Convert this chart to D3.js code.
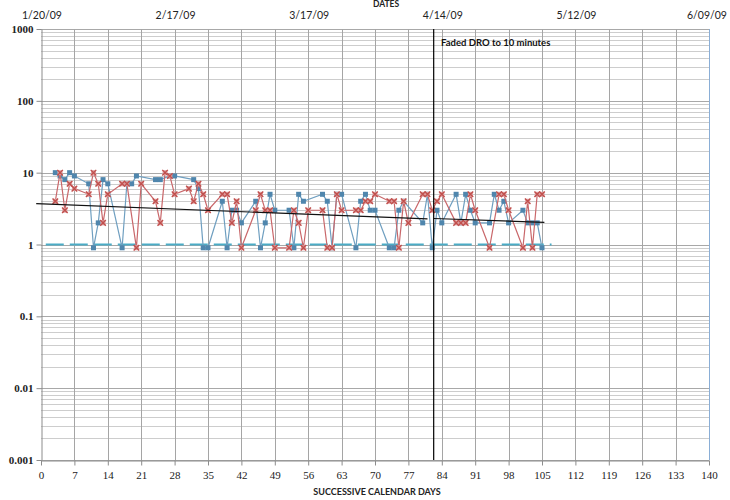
<!DOCTYPE html>
<html>
<head>
<meta charset="utf-8">
<script src="https://cdn.jsdelivr.net/npm/d3@7"></script>
<style>
  body { margin: 0; background: #fff; }
  svg { display: block; }
</style>
</head>
<body>
<svg id="chart" width="730" height="500"></svg>
<script>
// successive calendar days and counts (0.9 = zero count)
var blueDays = [3, 4, 5, 6, 7, 10, 11, 12, 13, 14, 17, 18, 19, 20, 24, 25, 27, 28, 32, 33, 34, 35, 38, 39, 40, 41, 42,
  45, 46, 47, 48, 49, 52, 53, 54, 55, 59, 60, 61, 62, 63, 66, 67, 68, 69, 70, 73, 74, 75, 76, 80, 81, 82,
  83, 84, 87, 88, 89, 90, 91, 94, 95, 96, 97, 98, 101, 102, 103, 104, 105];
var blueCounts = [10, 9, 8, 10, 9, 7, 0.9, 2, 8, 7, 0.9, 7, 7, 9, 8, 8, 9, 9, 8, 6, 0.9, 0.9, 4, 0.9, 3, 3, 2,
  4, 0.9, 2, 5, 3, 3, 0.9, 5, 4, 5, 4, 0.9, 5, 5, 0.9, 4, 5, 3, 3, 0.9, 0.9, 3, 4, 2, 5, 0.9,
  3, 2, 5, 2, 5, 3, 2, 2, 5, 3, 4, 2, 3, 2, 2, 2, 0.9];

var redDays = [3, 4, 5, 6, 7, 10, 11, 12, 13, 14, 17, 18, 20, 21, 24, 25, 26, 27, 28, 31, 32, 33, 34, 35, 38, 39, 40, 41, 42,
  45, 46, 47, 48, 49, 52, 53, 54, 55, 56, 59, 60, 61, 62, 63, 66, 67, 68, 69, 70, 73, 74, 75, 76, 77, 80, 81, 82,
  83, 84, 87, 88, 89, 90, 91, 94, 96, 97, 98, 101, 102, 103, 104, 105];
var redCounts = [4, 10, 3, 7, 6, 5, 10, 7, 2, 5, 7, 7, 0.9, 7, 4, 2, 10, 9, 5, 6, 4, 7, 5, 3, 5, 5, 2, 4, 0.9,
  3, 5, 3, 3, 0.9, 0.9, 3, 2, 0.9, 3, 3, 0.9, 0.9, 5, 3, 3, 3, 4, 4, 5, 4, 4, 0.9, 4, 2, 5, 5, 3,
  4, 5, 2, 2, 2, 5, 3, 0.9, 5, 5, 3, 0.9, 4, 0.9, 5, 5];

// trend lines (before / after the phase change) and the criterion line at 1
var trendBeforeDays = [-1, 81];
var trendBeforeVals = [3.7, 2.27];
var trendAfterDays = [82.3, 105.5];
var trendAfterVals = [2.3, 2.03];
var criterionDays = [1, 107];
var criterionVals = [1, 1];
var phaseDay = 82.3;

var xTicks = d3.range(0, 141, 7);
var yTicks = [0.001, 0.01, 0.1, 1, 10, 100, 1000];
var yTickLabels = ["0.001", "0.01", "0.1", "1", "10", "100", "1000"];
var dateDays = [0, 28, 56, 84, 112, 140];
var dateLabels = ["1/20/09", "2/17/09", "3/17/09", "4/14/09", "5/12/09", "6/09/09"];

var svg = d3.select("#chart");
var plotLeft = 41, plotRight = 709, plotTop = 29, plotBottom = 460;

var x = d3.scaleLinear().domain([0, 140]).range([plotLeft, plotRight]);
var y = d3.scaleLog().domain([0.001, 1000]).range([plotBottom, plotTop]);

// horizontal log gridlines (1..9 per decade)
var minor = [];
yTicks.slice(0, -1).forEach(function (d) {
  for (var k = 1; k < 10; k++) minor.push(d * k);
});
minor.push(1000);

svg.append("g")
  .selectAll("line")
  .data(minor)
  .enter().append("line")
  .attr("x1", plotLeft).attr("x2", plotRight)
  .attr("y1", function (d) { return Math.round(y(d)) + 0.5; })
  .attr("y2", function (d) { return Math.round(y(d)) + 0.5; })
  .attr("stroke", function (d) { return yTicks.indexOf(d) >= 0 ? "#a8a8a8" : "#cdcdcd"; })
  .attr("stroke-width", 1);

// vertical gridlines every 7 days
svg.append("g")
  .selectAll("line")
  .data(xTicks.slice(1))
  .enter().append("line")
  .attr("x1", function (d) { return Math.round(x(d)) + 0.5; })
  .attr("x2", function (d) { return Math.round(x(d)) + 0.5; })
  .attr("y1", plotTop).attr("y2", plotBottom)
  .attr("stroke", function (d) { return d === 140 ? "#8aaed6" : "#a5a5a5"; })
  .attr("stroke-width", 1);

// bottom axis
var xAxis = svg.append("g")
  .attr("transform", "translate(0," + (plotBottom + 0.5) + ")")
  .call(d3.axisBottom(x).tickValues(xTicks).tickSize(5).tickPadding(6).tickSizeOuter(0));
xAxis.select(".domain").attr("stroke", "#8c8c8c");
xAxis.selectAll(".tick line").attr("stroke", "#8c8c8c");
xAxis.selectAll("text")
  .attr("font-family", "'Liberation Serif', 'DejaVu Serif', serif")
  .attr("font-size", 11)
  .attr("fill", "#222");

// left axis
var yAxis = svg.append("g")
  .attr("transform", "translate(" + (plotLeft + 0.5) + ",0)")
  .call(d3.axisLeft(y).tickValues(yTicks).tickSize(5).tickPadding(3).tickSizeOuter(0)
    .tickFormat(function (d, i) { return yTickLabels[i]; }));
yAxis.select(".domain").attr("stroke", "#8c8c8c");
yAxis.selectAll(".tick line").attr("stroke", "#8c8c8c");
yAxis.selectAll("text")
  .attr("font-family", "'Liberation Serif', 'DejaVu Serif', serif")
  .attr("font-weight", "bold")
  .attr("font-size", 11)
  .attr("fill", "#222");

// top date labels
svg.append("g")
  .selectAll("text")
  .data(dateDays)
  .enter().append("text")
  .attr("x", function (d) { return d === 140 ? x(d) - 2 : x(d) + 1; })
  .attr("y", 19)
  .attr("text-anchor", "middle")
  .attr("font-family", "Lato, 'Open Sans', sans-serif")
  .attr("font-size", 10.5)
  .attr("fill", "#222")
  .text(function (d, i) { return dateLabels[i]; });

svg.append("text")
  .attr("x", 386).attr("y", 7)
  .attr("text-anchor", "middle")
  .attr("font-family", "Lato, sans-serif")
  .attr("font-weight", "bold")
  .attr("font-size", 8.5)
  .attr("fill", "#222")
  .text("DATES");

svg.append("text")
  .attr("x", 377).attr("y", 495)
  .attr("text-anchor", "middle")
  .attr("font-family", "Lato, sans-serif")
  .attr("font-weight", "bold")
  .attr("font-size", 9)
  .attr("fill", "#222")
  .text("SUCCESSIVE CALENDAR DAYS");

// criterion line
var line = d3.line()
  .x(function (d) { return x(d[0]); })
  .y(function (d) { return y(d[1]); });

svg.append("path")
  .datum(d3.zip(criterionDays, criterionVals))
  .attr("d", line)
  .attr("fill", "none")
  .attr("stroke", "#4bacc6")
  .attr("stroke-width", 2)
  .attr("stroke-dasharray", "18,6");

// blue series
var blueData = d3.zip(blueDays, blueCounts);
svg.append("path")
  .datum(blueData)
  .attr("d", line)
  .attr("fill", "none")
  .attr("stroke", "#6f9fc0")
  .attr("stroke-width", 1.2);

svg.append("g")
  .selectAll("rect")
  .data(blueData)
  .enter().append("rect")
  .attr("x", function (d) { return x(d[0]) - 2.5; })
  .attr("y", function (d) { return y(d[1]) - 2.5; })
  .attr("width", 5).attr("height", 5)
  .attr("fill", "#4f86ad");

// red series
var redData = d3.zip(redDays, redCounts);
svg.append("path")
  .datum(redData)
  .attr("d", line)
  .attr("fill", "none")
  .attr("stroke", "#c9676a")
  .attr("stroke-width", 1.2);

var redMarks = svg.append("g")
  .selectAll("g")
  .data(redData)
  .enter().append("g")
  .attr("transform", function (d) { return "translate(" + x(d[0]) + "," + y(d[1]) + ")"; });
redMarks.append("rect")
  .attr("x", -2.5).attr("y", -2.5)
  .attr("width", 5).attr("height", 5)
  .attr("fill", "#e0a0a2");
redMarks.append("path")
  .attr("d", d3.symbol(d3.symbolTimes, 22))
  .attr("fill", "none")
  .attr("stroke", "#c0504d")
  .attr("stroke-width", 1.4);

// trend lines
[[trendBeforeDays, trendBeforeVals], [trendAfterDays, trendAfterVals]].forEach(function (t) {
  svg.append("path")
    .datum(d3.zip(t[0], t[1]))
    .attr("d", line)
    .attr("fill", "none")
    .attr("stroke", "#111")
    .attr("stroke-width", 1.2);
});

// phase change line
svg.append("line")
  .attr("x1", x(phaseDay)).attr("x2", x(phaseDay))
  .attr("y1", plotTop).attr("y2", plotBottom)
  .attr("stroke", "#000")
  .attr("stroke-width", 1.2);

svg.append("text")
  .attr("x", 441).attr("y", 46)
  .attr("font-family", "Lato, sans-serif")
  .attr("font-weight", "bold")
  .attr("font-size", 9.5)
  .attr("fill", "#111")
  .text("Faded DRO to 10 minutes");
</script>
</body>
</html>
